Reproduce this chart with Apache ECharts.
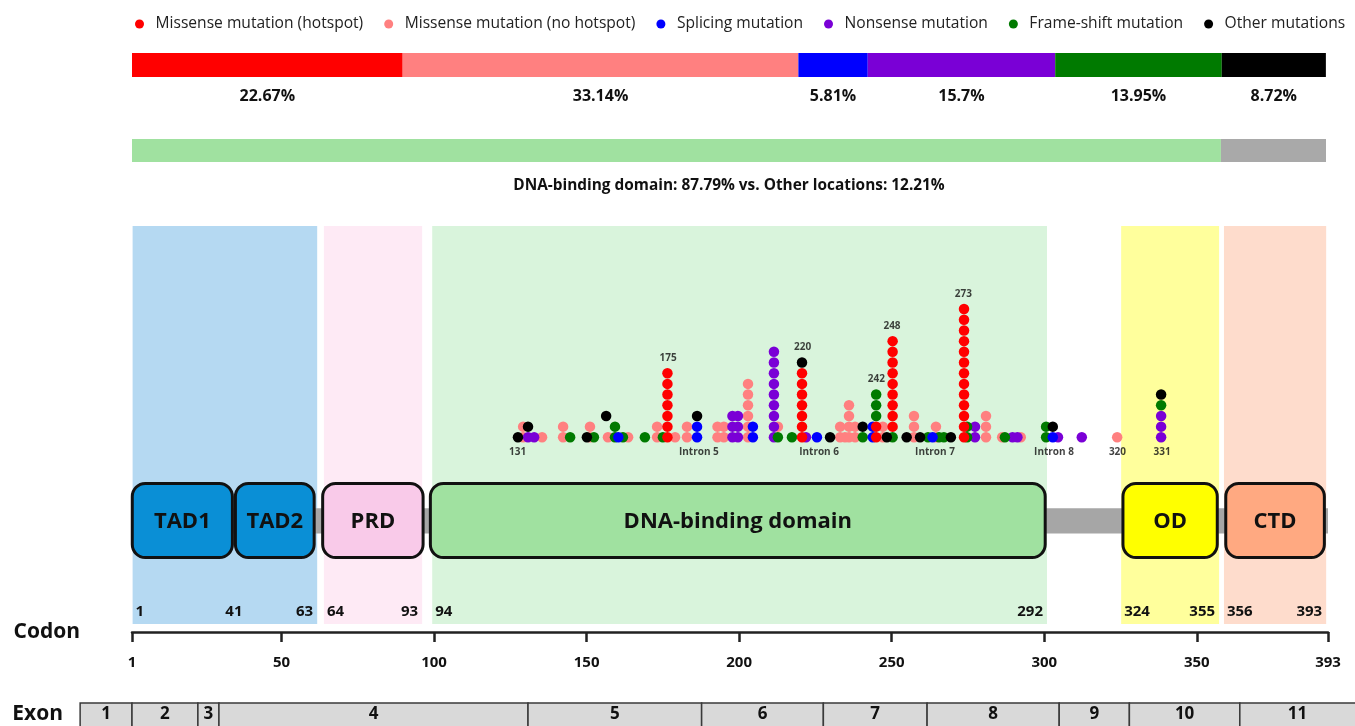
<!DOCTYPE html>
<html><head><meta charset="utf-8">
<script src="https://cdn.jsdelivr.net/npm/echarts@6/dist/echarts.min.js"></script>
<style>html,body{margin:0;padding:0;background:#fff}#c{width:1355px;height:726px}</style>
</head><body><div id="c"></div>
<script>
const FONT = "'Open Sans', 'Noto Sans', sans-serif";

// ---- mutation types & shares (%) ----
const mutationTypes = ['Missense mutation (hotspot)', 'Missense mutation (no hotspot)', 'Splicing mutation', 'Nonsense mutation', 'Frame-shift mutation', 'Other mutations'];
const mutationShares = [22.67, 33.14, 5.81, 15.7, 13.95, 8.72];
const typeColors = ['#ff0000', '#ff8080', '#0000ff', '#7a00d6', '#007a00', '#000000'];

// ---- location bar (as drawn) ----
const locationNames = ['DNA-binding domain', 'Other locations'];
const locationBar = [91.2, 8.8];
const locationColors = ['#a0e1a0', '#a9a9a9'];
const locationText = 'DNA-binding domain: 87.79% vs. Other locations: 12.21%';

// ---- protein domains ----
const domainNames = ['TAD1', 'TAD2', 'PRD', 'DNA-binding domain', 'OD', 'CTD'];
const domainStart = [0.6, 34.4, 63.0, 98.3, 325.3, 359.0];
const domainEnd = [34.4, 61.2, 96.9, 300.8, 357.2, 392.3];
const domainColors = ['#0a8fd6', '#0a8fd6', '#f9cae9', '#a0e1a0', '#ffff00', '#ffa981'];

const bandStart = [1.2, 63.9, 99.4, 325.2, 358.9];
const bandEnd = [61.7, 96.1, 300.9, 357.3, 392.4];
const bandColors = ['#b5d9f2', '#feeaf5', '#d9f4dc', '#ffff9c', '#fedccc'];

const boundaryLabels = ['1', '41', '63', '64', '93', '94', '292', '324', '355', '356', '393'];
const boundaryPos = [1.2, 34.4, 61.7, 63.9, 96.1, 99.4, 300.9, 325.2, 357.3, 358.9, 392.4];
const boundaryAlign = ['left', 'center', 'right', 'left', 'right', 'left', 'right', 'left', 'right', 'left', 'right'];

// ---- codon axis ----
const codonTicks = [1, 50, 100, 150, 200, 250, 300, 350, 393];

// ---- exons ----
const exonNames = ['1', '2', '3', '4', '5', '6', '7', '8', '9', '10', '11'];
const exonStart = [-16, 1, 22.6, 29.5, 130.8, 187.7, 227.6, 261.6, 304.9, 327.9, 364.1];
const exonEnd = [1, 22.6, 29.5, 130.8, 187.7, 227.6, 261.6, 304.9, 327.9, 364.1, 404];

// ---- mutation dots: [codon, stack level] ----
const hotspotDots = [
  [176.5,0],[176.5,1],[176.5,2],[176.5,3],[176.5,4],[176.5,5],[176.5,6],
  [220.6,0],[220.6,1],[220.6,2],[220.6,3],[220.6,4],[220.6,5],[220.6,6],
  [244.9,0],[244.9,1],
  [250.3,1],[250.3,2],[250.3,3],[250.3,4],[250.3,5],[250.3,6],[250.3,7],[250.3,8],[250.3,9],
  [273.7,0],[273.7,1],[273.7,2],[273.7,3],[273.7,4],[273.7,5],[273.7,6],[273.7,7],[273.7,8],[273.7,9],[273.7,10],[273.7,11],[273.7,12]
];
const missenseDots = [
  [129.2,0],[129.2,1],[135.4,0],[142.3,0],[142.3,1],[151.1,0],[151.1,1],[157.0,0],[163.6,0],
  [173.1,0],[173.1,1],[179.0,0],[182.9,0],[182.9,1],[192.9,0],[192.9,1],[195.0,0],[195.0,1],
  [202.9,0],[202.9,1],[202.9,2],[202.9,3],[202.9,4],[202.9,5],[212.7,1],
  [233.1,0],[233.1,1],[234.7,0],[236.0,0],[236.0,1],[236.0,2],[236.0,3],[238.0,0],[238.0,1],
  [247.1,0],[247.1,1],[257.3,0],[257.3,1],[257.3,2],[264.5,0],[264.5,1],
  [280.9,0],[280.9,1],[280.9,2],[286.2,0],[292.3,0],[323.9,0]
];
const splicingDots = [
  [160.4,0],[186.2,0],[186.2,1],[204.5,0],[204.5,1],[225.5,0],[243.8,0],[243.8,1],[263.4,0],[302.8,0]
];
const nonsenseDots = [
  [130.8,0],[132.8,0],[197.8,0],[197.8,1],[197.8,2],[199.6,0],[199.6,1],[199.6,2],
  [211.4,0],[211.4,1],[211.4,2],[211.4,3],[211.4,4],[211.4,5],[211.4,6],[211.4,7],[211.4,8],
  [221.9,0],[277.3,0],[277.3,1],[289.6,0],[291.2,0],[304.5,0],[312.3,0],[338.3,0],[338.3,1],[338.3,2]
];
const frameshiftDots = [
  [144.6,0],[152.4,0],[159.3,0],[159.3,1],[161.9,0],[169.1,0],[175.0,0],[212.7,0],[217.3,0],
  [240.5,0],[244.9,2],[244.9,3],[244.9,4],[250.3,0],[261.9,0],[265.5,0],[267.1,0],
  [274.7,0],[274.7,1],[287.1,0],[300.6,0],[300.6,1],[338.3,3]
];
const otherDots = [
  [127.5,0],[130.8,1],[150.1,0],[156.4,2],[186.2,2],[220.6,7],[229.8,0],[240.5,1],
  [248.4,0],[254.9,0],[259.3,0],[269.4,0],[302.8,1],[338.3,4]
];

// ---- lollipop annotations: [codon, level, text] ----
const hotspotLabels = [[176.7,6,'175'],[220.8,7,'220'],[245.0,4,'242'],[250.1,9,'248'],[273.5,12,'273']];
const siteLabels = [[127.4,0,'131'],[186.8,0,'Intron 5'],[226.2,0,'Intron 6'],[264.2,0,'Intron 7'],[303.2,0,'Intron 8'],[324.0,0,'320'],[338.6,0,'331']];

// ================= build option =================
const L = 132, R = 27;
const codonX = (gi) => ({ gridIndex: gi, type: 'value', min: 1, max: 393, show: false });

const grids = [
  { left: L, right: 29, top: 53, height: 24 },   // 0 mutation type bar
  { left: L, right: 29, top: 139, height: 23 },  // 1 location bar
  { left: L, right: R, top: 226, height: 398 },  // 2 domain bands + codon axis
  { left: L, right: R, top: 277, height: 171 },  // 3 lollipops
  { left: L, right: R, top: 482, height: 77 },   // 4 domain boxes
  { left: L, right: R, top: 703, height: 27 }    // 5 exons
];

const xAxes = [
  { gridIndex: 0, type: 'value', min: 0, max: 100, show: false },
  { gridIndex: 1, type: 'value', min: 0, max: 100, show: false },
  { gridIndex: 2, type: 'value', min: 1, max: 393, position: 'bottom', offset: 8,
    name: 'Codon', nameLocation: 'start', nameGap: 52,
    nameTextStyle: { fontFamily: FONT, fontWeight: 'bold', fontSize: 21, color: '#111' },
    axisLine: { show: true, onZero: false, lineStyle: { color: '#222', width: 2.5 } },
    axisTick: { show: true, customValues: codonTicks, length: 10, lineStyle: { color: '#222', width: 2.5 } },
    axisLabel: { show: true, customValues: codonTicks, margin: 23, fontFamily: FONT, fontWeight: 'bold', fontSize: 15, color: '#111' },
    splitLine: { show: false } },
  codonX(3), codonX(4), codonX(5)
];

const yAxes = [
  { gridIndex: 0, type: 'category', data: [''], show: false },
  { gridIndex: 1, type: 'category', data: [''], show: false },
  { gridIndex: 2, type: 'value', min: 0, max: 1, show: false },
  { gridIndex: 3, type: 'value', min: -1, max: 15, show: false },
  { gridIndex: 4, type: 'value', min: 0, max: 1, show: false },
  { gridIndex: 5, type: 'category', data: ['Exon'], axisLine: { show: false }, axisTick: { show: false },
    axisLabel: { margin: 69, fontFamily: FONT, fontWeight: 'bold', fontSize: 21, color: '#111' } }
];

const series = [];

// mutation type stacked bar
mutationTypes.forEach((n, i) => series.push({
  type: 'bar', name: 'share: ' + n, stack: 'mut', xAxisIndex: 0, yAxisIndex: 0, barWidth: '100%',
  data: [mutationShares[i]], itemStyle: { color: typeColors[i] }, silent: true,
  label: { show: true, position: 'bottom', distance: 11, formatter: p => p.value + '%',
    fontFamily: FONT, fontWeight: 'bold', fontSize: 16, color: '#111' }
}));
// location bar
locationNames.forEach((n, i) => series.push({
  type: 'bar', name: 'loc: ' + n, stack: 'loc', xAxisIndex: 1, yAxisIndex: 1, barWidth: '100%',
  data: [locationBar[i]], itemStyle: { color: locationColors[i] }, silent: true
}));

// domain bands
series.push({
  type: 'custom', name: 'bands', xAxisIndex: 2, yAxisIndex: 2, silent: true, z: 0,
  data: bandStart.map((s, i) => [s, bandEnd[i], i]),
  renderItem: (params, api) => {
    const a = api.coord([api.value(0), 0]);
    const b = api.coord([api.value(1), 1]);
    return { type: 'rect', shape: { x: a[0], y: b[1], width: b[0] - a[0], height: a[1] - b[1] },
      style: { fill: bandColors[api.value(2)] } };
  }
});
// boundary labels
series.push({
  type: 'custom', name: 'boundaries', xAxisIndex: 2, yAxisIndex: 2, silent: true, z: 3,
  data: boundaryPos.map((p, i) => [p, i]),
  renderItem: (params, api) => {
    const i = api.value(1);
    const p = api.coord([api.value(0), 0]);
    const al = boundaryAlign[i];
    const dx = al === 'left' ? 3 : (al === 'right' ? -4 : 0);
    return { type: 'text', x: p[0] + dx, y: p[1] - 12,
      style: { text: boundaryLabels[i], align: al, verticalAlign: 'middle',
        font: 'bold 15px ' + FONT, fill: '#111' } };
  }
});

// connector line behind domain boxes
series.push({
  type: 'custom', name: 'backbone', xAxisIndex: 4, yAxisIndex: 4, silent: true, z: 2,
  data: [[1, 393]],
  renderItem: (params, api) => {
    const a = api.coord([api.value(0), 0.33]);
    const b = api.coord([api.value(1), 0.66]);
    return { type: 'rect', shape: { x: a[0], y: b[1], width: b[0] - a[0], height: a[1] - b[1] },
      style: { fill: '#a6a6a6' } };
  }
});
// domain boxes
series.push({
  type: 'custom', name: 'domains', xAxisIndex: 4, yAxisIndex: 4, silent: true, z: 3,
  data: domainStart.map((s, i) => [s, domainEnd[i], i]),
  renderItem: (params, api) => {
    const i = api.value(2);
    const a = api.coord([api.value(0), 0]);
    const b = api.coord([api.value(1), 1]);
    const x = a[0] + 1.5, y = b[1] + 1.5, w = b[0] - a[0] - 3, h = a[1] - b[1] - 3;
    return { type: 'group', children: [
      { type: 'rect', shape: { x, y, width: w, height: h, r: 13 },
        style: { fill: domainColors[i], stroke: '#111', lineWidth: 3 } },
      { type: 'text', x: x + w / 2, y: y + h / 2 + 1,
        style: { text: domainNames[i], align: 'center', verticalAlign: 'middle',
          font: 'bold 22px ' + FONT, fill: '#111' } }
    ] };
  }
});

// exons
series.push({
  type: 'custom', name: 'exons', xAxisIndex: 5, yAxisIndex: 5, silent: true, clip: false, z: 2,
  data: exonStart.map((s, i) => [s, exonEnd[i], i]),
  renderItem: (params, api) => {
    const i = api.value(2);
    const a = api.coord([api.value(0), 0]);
    const b = api.coord([api.value(1), 0]);
    const h = api.size([0, 1])[1];
    const y = a[1] - h / 2;
    return { type: 'group', children: [
      { type: 'rect', shape: { x: a[0], y: y, width: b[0] - a[0], height: h + 6 },
        style: { fill: '#d9d9d9', stroke: '#3a3a3a', lineWidth: 1.5 } },
      { type: 'text', x: (a[0] + Math.min(b[0], 1355)) / 2, y: a[1],
        style: { text: exonNames[i], align: 'center', verticalAlign: 'middle',
          font: 'bold 17px ' + FONT, fill: '#111' } }
    ] };
  }
});

// lollipop dots (draw order chosen so overlaps resemble the reference)
const dotSets = [
  [1, missenseDots], [3, nonsenseDots], [4, frameshiftDots], [5, otherDots], [2, splicingDots], [0, hotspotDots]
];
dotSets.forEach(([ti, d]) => series.push({
  type: 'scatter', name: mutationTypes[ti], xAxisIndex: 3, yAxisIndex: 3, data: d,
  symbol: 'circle', symbolSize: 10.5, itemStyle: { color: typeColors[ti], opacity: 1 }, z: 5, silent: true
}));

// annotations
series.push({
  type: 'scatter', name: 'hotspot labels', xAxisIndex: 3, yAxisIndex: 3, data: hotspotLabels,
  symbolSize: 0, z: 6, silent: true,
  label: { show: true, position: 'top', distance: 10, formatter: p => p.data[2],
    fontFamily: FONT, fontWeight: 'bold', fontSize: 10, color: '#111' }
});
series.push({
  type: 'scatter', name: 'site labels', xAxisIndex: 3, yAxisIndex: 3, data: siteLabels,
  symbolSize: 0, z: 6, silent: true,
  label: { show: true, position: 'bottom', distance: 10, formatter: p => p.data[2],
    fontFamily: FONT, fontWeight: 'bold', fontSize: 10, color: '#111' }
});

const option = {
  animation: false,
  backgroundColor: '#fff',
  legend: {
    data: mutationTypes, left: 130, top: 11, icon: 'circle', itemWidth: 22, itemHeight: 9, itemGap: 21,
    textStyle: { fontFamily: FONT, fontSize: 15.6, color: '#222' }, selectedMode: false
  },
  graphic: [{ type: 'text', x: 729, y: 186, silent: true,
    style: { text: locationText, align: 'center', verticalAlign: 'middle', font: 'bold 15.4px ' + FONT, fill: '#111' } }],
  grid: grids, xAxis: xAxes, yAxis: yAxes, series: series
};

const chart = echarts.init(document.getElementById('c'), null, { renderer: 'canvas' });
chart.setOption(option);
</script>
</body></html>
